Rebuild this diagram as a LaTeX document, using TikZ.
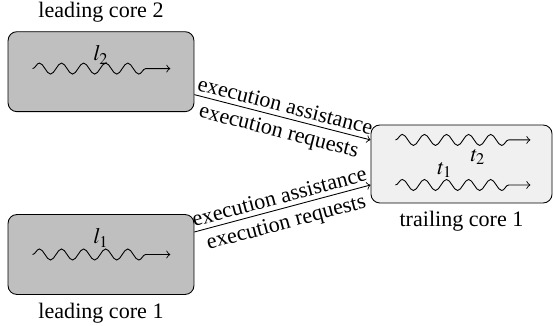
\documentclass[tikz,border=0pt]{standalone}
\usepackage{mathptmx}
\usepackage{fontspec}
\setmainfont{Liberation Serif}
\usepackage{tikz}
\usetikzlibrary{arrows,shapes,decorations.pathmorphing,positioning}

\begin{document}
\begin{tikzpicture}[x=0.4529pt, y=-0.4529pt]
% STYLES
\tikzset{
    core/.style={rectangle, draw, rounded corners=4pt, fill=black!25,
    minimum width=84.2pt, minimum height=36.2pt, inner sep=0pt},
    trailcore/.style={core, fill=black!6, minimum width=82pt, minimum height=35.3pt},
    thread/.style={->, decorate, decoration={snake, post length=2.2mm}},
    flow/.style={->, >=to}
}
\useasboundingbox (0,0) rectangle (555,326);

\node [core] (lead1) at (101,254.5) {};
\node [core, above=46.2pt of lead1] (lead2) {};
\node [trailcore] (trail) at (461.5,164) {};

% Labels of the cores
\node [above=0.5pt of lead2] (lead2name) {leading core 2};
\node [below=0pt of lead1] (lead1name) {leading core 1};
\node [below=0pt of trail] (trailname) {trailing core 1};

% Threads
\draw[thread] ([xshift=11.3pt, yshift=1.4pt]lead2.west) -- ([xshift=-10.9pt, yshift=1.4pt]lead2.east);
\node at ([yshift=7.6pt]lead2.center) (l2) {$l_2$};
\draw[thread] ([xshift=11.3pt]lead1.west) -- ([xshift=-10.9pt]lead1.east);
\node at ([yshift=7.5pt]lead1.center) (l1) {$l_1$};
\draw[thread] ([xshift=11.3pt, yshift=10.9pt]trail.west) -- ([xshift=-10pt, yshift=10.9pt]trail.east);
\draw[thread] ([xshift=11.3pt, yshift=-9.5pt]trail.west) -- ([xshift=-10pt, yshift=-9.5pt]trail.east);
\node at ([xshift=7.5pt, yshift=3.2pt]trail.center) (t2) {$t_2$};
\node at ([xshift=-7.5pt, yshift=-2.7pt]trail.center) (t1) {$t_1$};

% Draw the links between
\draw[flow] ([yshift=-10.4pt]lead2.east) -- node[midway, above, sloped, inner sep=2pt] {execution assistance}
    node[midway, below, sloped, inner sep=2.5pt] {execution requests} ([yshift=10.9pt]trail.west);
\draw[flow] ([yshift=10.2pt]lead1.east) -- node[midway, above, sloped, inner sep=2pt] {execution assistance}
    node[midway, below, sloped, inner sep=2.5pt] {execution requests} ([yshift=-9.5pt]trail.west);
\end{tikzpicture}
\end{document}
